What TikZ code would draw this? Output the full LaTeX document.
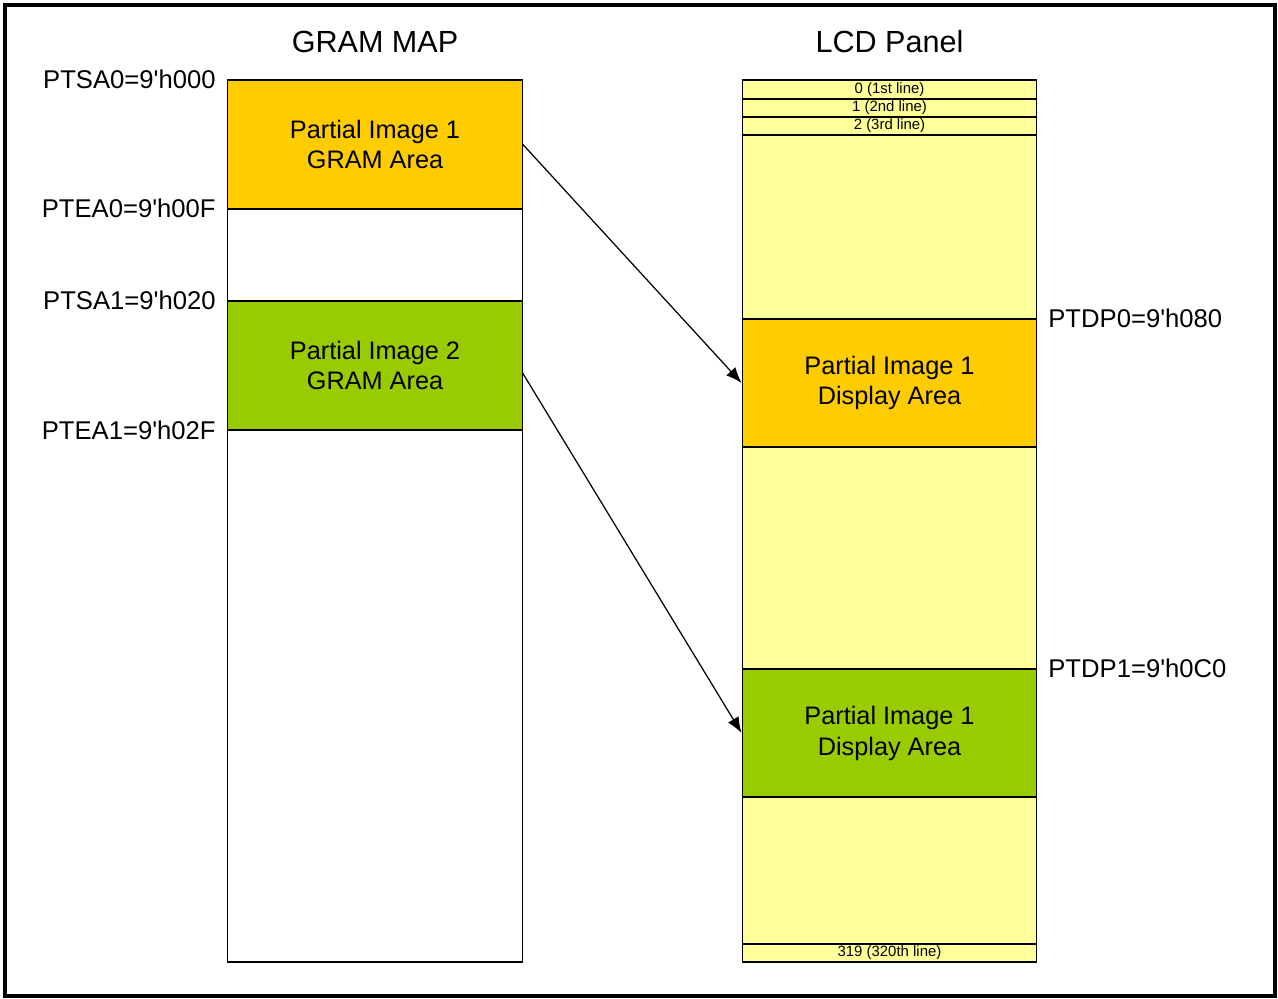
\documentclass[tikz,border=0pt]{standalone}
\usepackage{fontspec}
\setmainfont{Liberation Sans}[Ligatures=TeXOff]
\usetikzlibrary{arrows.meta}
\definecolor{gramorange}{HTML}{FFCC00}
\definecolor{gramgreen}{HTML}{99CC00}
\definecolor{lcdyellow}{HTML}{FFFF99}
\begin{document}
\begin{tikzpicture}[x=.02cm,y=-.02cm,
  area/.style={draw,line width=.8pt,minimum width=5.89cm,inner sep=0pt,align=center,
    font=\fontsize{14.4}{17.6}\selectfont},
  row/.style={area,fill=lcdyellow,minimum height=.36cm,font=\fontsize{8.5}{9}\selectfont},
  lbl/.style={inner sep=0pt,font=\fontsize{14.6}{16}\selectfont},
  ttl/.style={inner sep=0pt,font=\fontsize{17.4}{20}\selectfont},
  arr/.style={-{Latex[length=9pt,width=7pt]},line width=.7pt}]
  \useasboundingbox (0,0) rectangle (1278,999);
  \draw[line width=2pt] (5,5) rectangle (1275,996);
  \node[ttl] (tg) at (375,42) {GRAM MAP};
  \node[ttl] (tl) at (889.5,42) {LCD Panel};
  \node[area,fill=gramorange,minimum height=2.58cm] (g1) at (375,144.5) {Partial Image 1\\GRAM Area};
  \node[area,minimum height=1.84cm] (gw1) at (375,255) {};
  \node[area,fill=gramgreen,minimum height=2.58cm] (g2) at (375,365.5) {Partial Image 2\\GRAM Area};
  \node[area,minimum height=10.64cm] (gw2) at (375,696) {};
  \node[row,minimum height=.38cm] (l0) at (889.5,89.5) {0 (1st line)};
  \node[row] (l1) at (889.5,108) {1 (2nd line)};
  \node[row] (l2) at (889.5,126) {2 (3rd line)};
  \node[area,fill=lcdyellow,minimum height=3.68cm] (y1) at (889.5,227) {};
  \node[area,fill=gramorange,minimum height=2.56cm] (d1) at (889.5,383) {Partial Image 1\\Display Area};
  \node[area,fill=lcdyellow,minimum height=4.44cm] (y2) at (889.5,558) {};
  \node[area,fill=gramgreen,minimum height=2.56cm] (d2) at (889.5,733) {Partial Image 1\\Display Area};
  \node[area,fill=lcdyellow,minimum height=2.94cm] (y3) at (889.5,870.5) {};
  \node[row] (l319) at (889.5,953) {319 (320th line)};
  \node[lbl,anchor=east] (sa0) at (216,79) {PTSA0=9'h000};
  \node[lbl,anchor=east] (ea0) at (216,208) {PTEA0=9'h00F};
  \node[lbl,anchor=east] (sa1) at (216,300) {PTSA1=9'h020};
  \node[lbl,anchor=east] (ea1) at (216,430) {PTEA1=9'h02F};
  \node[lbl,anchor=west] (dp0) at (1048,318) {PTDP0=9'h080};
  \node[lbl,anchor=west] (dp1) at (1048,668) {PTDP1=9'h0C0};
  \draw[arr] (g1.east) -- (d1.west);
  \draw[arr] ([yshift=-.16cm]g2.east) -- (d2.west);
\end{tikzpicture}
\end{document}
